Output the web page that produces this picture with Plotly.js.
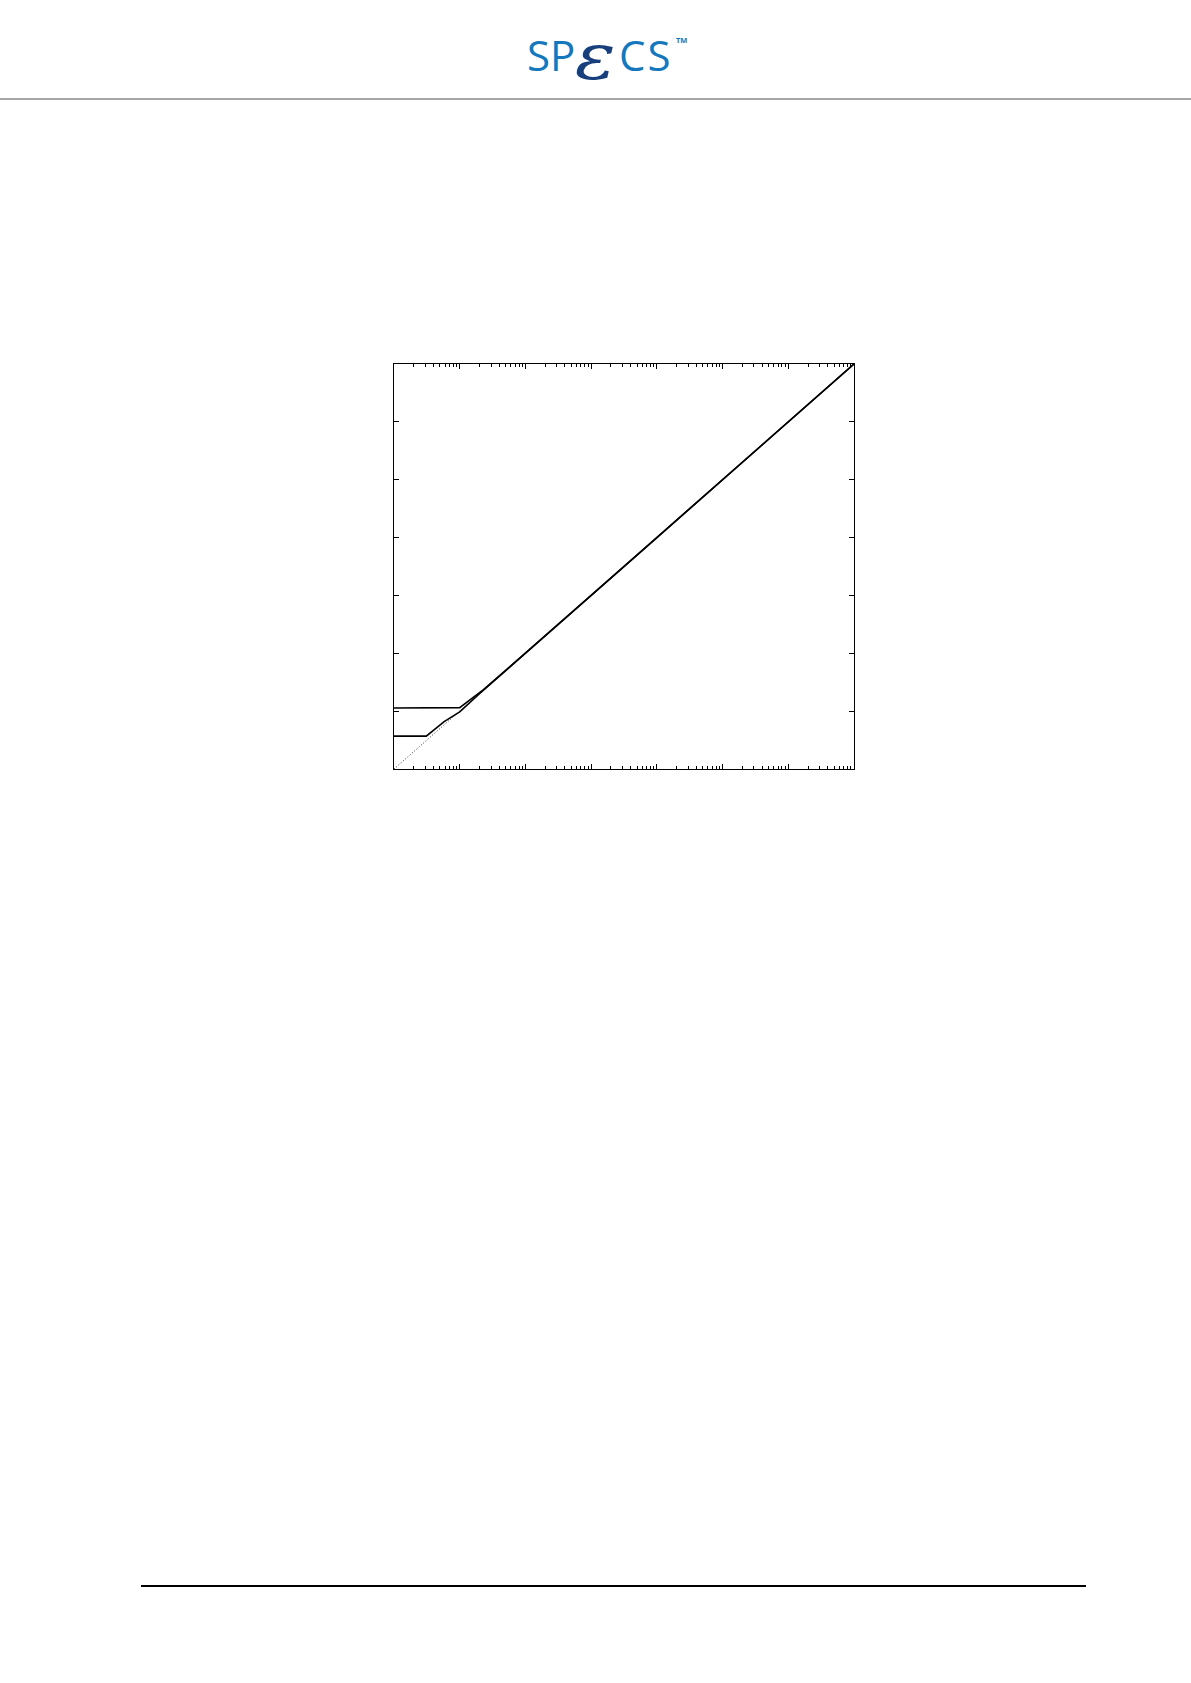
<!DOCTYPE html>
<html>
<head>
<meta charset="utf-8">
<script src="https://cdn.plot.ly/plotly-3.0.1.min.js"></script>
<style>
  html, body { margin: 0; padding: 0; background: #fff; }
  #wrap { position: relative; width: 1191px; height: 1683px; overflow: hidden; }
  #chart { position: absolute; left: 0; top: 0; width: 1191px; height: 1683px; }
  #logo { position: absolute; left: 0; top: 0; }
  #topline { position: absolute; left: 0; top: 98px; width: 1191px; height: 2px; background: #a6a6a6; }
  #botline { position: absolute; left: 141px; top: 1585px; width: 945px; height: 2px; background: #000; }
</style>
</head>
<body>
<div id="wrap">
  <div id="chart"></div>
  <svg id="logo" width="1191" height="96" xmlns="http://www.w3.org/2000/svg">
    <text x="527" y="71" font-family="Open Sans, Noto Sans, sans-serif" font-size="42" fill="#1577bc">SP</text>
    <text transform="translate(575,79) scale(1.2,1)" x="0" y="0" font-family="DejaVu Serif, Liberation Serif, serif" font-style="italic" font-size="63" fill="#173f7c">ε</text>
    <text x="619" y="71" font-family="Open Sans, Noto Sans, sans-serif" font-size="42" fill="#1577bc" letter-spacing="2">CS</text>
    <text x="676" y="42.5" font-family="Open Sans, Noto Sans, sans-serif" font-size="7.5" font-weight="bold" fill="#1577bc">TM</text>
  </svg>
  <div id="topline"></div>
  <div id="botline"></div>
</div>
<script>
// Ideal response (dotted reference line)
const idealX = [1, 1e7];
const idealY = [1, 1e7];

// Curve with the higher low-end plateau
const upperX = [1, 10, 23, 100, 1e3, 1e4, 1e5, 1e6, 1e7];
const upperY = [11.3, 11.5, 23.5, 100, 1e3, 1e4, 1e5, 1e6, 1e7];

// Curve with the lower low-end plateau
const lowerX = [1, 3.1, 5.8, 10, 20, 100, 1e3, 1e4, 1e5, 1e6, 1e7];
const lowerY = [3.7, 3.7, 6.6, 9.7, 20, 100, 1e3, 1e4, 1e5, 1e6, 1e7];

const traces = [
  { x: idealX, y: idealY, mode: 'lines', line: { color: '#333', width: 1, dash: '1px,2px' }, hoverinfo: 'skip' },
  { x: upperX, y: upperY, mode: 'lines', line: { color: '#000', width: 1.6 } },
  { x: lowerX, y: lowerY, mode: 'lines', line: { color: '#000', width: 1.6 } }
];

const axisCommon = {
  type: 'log',
  range: [0, 7],
  dtick: 1,
  showgrid: false,
  zeroline: false,
  showline: true,
  linecolor: '#000',
  linewidth: 1,
  mirror: 'ticks',
  ticks: 'inside',
  ticklen: 5,
  tickcolor: '#000',
  tickwidth: 1,
  showticklabels: false
};

const layout = {
  width: 1191,
  height: 1683,
  margin: { l: 394, r: 337, t: 364, b: 914, pad: 0 },
  paper_bgcolor: '#fff',
  plot_bgcolor: '#fff',
  showlegend: false,
  xaxis: Object.assign({}, axisCommon, {
    minor: { dtick: 'D1', ticks: 'inside', ticklen: 3, tickcolor: '#000', tickwidth: 1, showgrid: false }
  }),
  yaxis: Object.assign({}, axisCommon)
};

Plotly.newPlot('chart', traces, layout, { staticPlot: true, displayModeBar: false });
</script>
</body>
</html>
